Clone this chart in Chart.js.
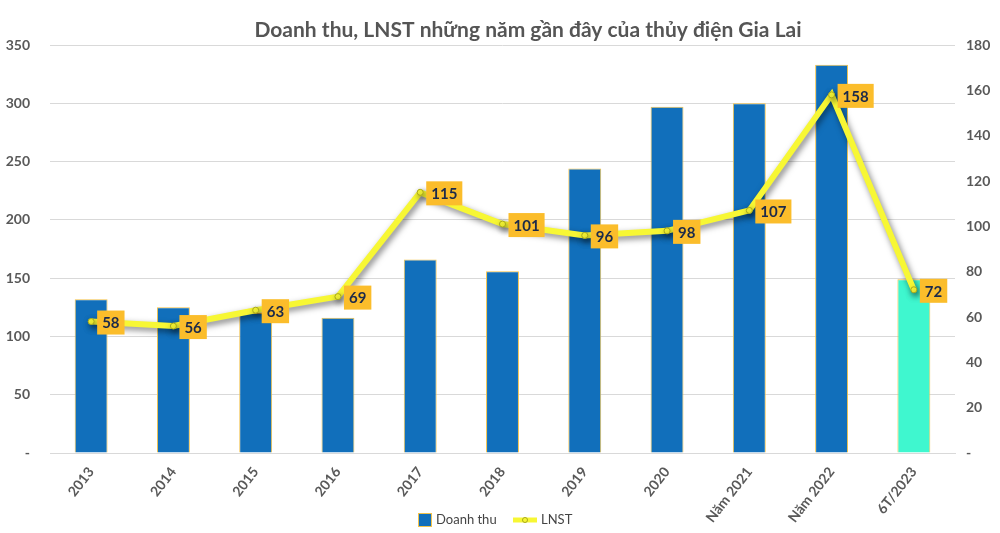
<!DOCTYPE html>
<html>
<head>
<meta charset="utf-8">
<script src="https://cdn.jsdelivr.net/npm/chart.js@4/dist/chart.umd.min.js"></script>
<style>
  html, body { margin: 0; padding: 0; background: #fff; }
  #wrap { width: 1000px; height: 533px; position: relative; }
</style>
</head>
<body>
<div id="wrap"><canvas id="chart"></canvas></div>
<script>
var categories = ['2013', '2014', '2015', '2016', '2017', '2018', '2019', '2020', 'Năm 2021', 'Năm 2022', '6T/2023'];
var doanhThu = [132, 125, 120, 116, 166, 156, 244, 297, 300, 333, 149];
var lnst = [58, 56, 63, 69, 115, 101, 96, 98, 107, 158, 72];
var barColors = ['#116fbb', '#116fbb', '#116fbb', '#116fbb', '#116fbb', '#116fbb', '#116fbb', '#116fbb', '#116fbb', '#116fbb', '#3ff7cf'];
var titleText = 'Doanh thu, LNST những năm gần đây của thủy điện Gia Lai';

var fontFamily = 'Lato, "Open Sans", sans-serif';

// title sits a bit right of centre in the original
var titlePlugin = {
    id: 'titlePlugin',
    afterDraw: function (chart) {
        var ctx = chart.ctx;
        ctx.save();
        ctx.font = 'bold 21px ' + fontFamily;
        ctx.fillStyle = '#555555';
        ctx.textAlign = 'center';
        ctx.textBaseline = 'middle';
        ctx.fillText(titleText, 528, 30);
        ctx.restore();
    }
};

// legend drawn by hand so it can share space with the rotated labels
var legendPlugin = {
    id: 'legendPlugin',
    afterDraw: function (chart) {
        var ctx = chart.ctx;
        var y = 520;
        ctx.save();
        ctx.font = '13px ' + fontFamily;
        ctx.textBaseline = 'middle';
        ctx.textAlign = 'left';
        ctx.fillStyle = '#116fbb';
        ctx.fillRect(418, y - 7, 14, 14);
        ctx.strokeStyle = '#f2c24a';
        ctx.lineWidth = 1;
        ctx.strokeRect(418.5, y - 6.5, 13, 13);
        ctx.fillStyle = '#444';
        ctx.fillText('Doanh thu', 436, y);
        ctx.strokeStyle = '#f7f734';
        ctx.lineWidth = 5;
        ctx.beginPath();
        ctx.moveTo(513, y);
        ctx.lineTo(537, y);
        ctx.stroke();
        ctx.fillStyle = '#f7f734';
        ctx.strokeStyle = '#a8a81c';
        ctx.lineWidth = 1;
        ctx.beginPath();
        ctx.arc(525, y, 2.5, 0, Math.PI * 2);
        ctx.fill();
        ctx.stroke();
        ctx.fillStyle = '#444';
        ctx.fillText('LNST', 541, y);
        ctx.restore();
    }
};

// shadow under the yellow line
var lineShadow = {
    id: 'lineShadow',
    beforeDatasetDraw: function (chart, args) {
        if (args.index === 0) {
            var ctx = chart.ctx;
            ctx.save();
            ctx.shadowColor = 'rgba(0,0,0,0.5)';
            ctx.shadowBlur = 6;
            ctx.shadowOffsetX = 2;
            ctx.shadowOffsetY = 3;
        }
    },
    afterDatasetDraw: function (chart, args) {
        if (args.index === 0) {
            chart.ctx.restore();
        }
    }
};

// orange boxes with the LNST values
var valueLabels = {
    id: 'valueLabels',
    afterDatasetsDraw: function (chart) {
        var ctx = chart.ctx;
        var meta = chart.getDatasetMeta(0);
        ctx.save();
        ctx.font = 'bold 15px ' + fontFamily;
        ctx.textBaseline = 'middle';
        ctx.textAlign = 'center';
        meta.data.forEach(function (pt, i) {
            var txt = String(lnst[i]);
            var w = ctx.measureText(txt).width + 10;
            var h = 24;
            var x = pt.x + 6;
            var y = pt.y - h / 2 + 1;
            ctx.fillStyle = '#fbbd2b';
            ctx.fillRect(x, y, w, h);
            ctx.fillStyle = '#1c2a4a';
            ctx.fillText(txt, x + w / 2, y + h / 2 + 1);
        });
        ctx.restore();
    }
};

var ctx = document.getElementById('chart').getContext('2d');
var chart = new Chart(ctx, {
    type: 'bar',
    data: {
        labels: categories,
        datasets: [
            {
                type: 'line',
                label: 'LNST',
                data: lnst,
                yAxisID: 'y1',
                borderColor: '#f7f734',
                backgroundColor: '#f7f734',
                borderWidth: 6,
                pointRadius: 3,
                pointBorderWidth: 1,
                pointBorderColor: '#a8a81c',
                pointBackgroundColor: '#f7f734',
                tension: 0,
                order: 0
            },
            {
                type: 'bar',
                label: 'Doanh thu',
                data: doanhThu,
                yAxisID: 'y',
                backgroundColor: barColors,
                borderColor: '#f2c24a',
                borderWidth: 1,
                categoryPercentage: 1,
                barPercentage: 0.4,
                order: 1
            }
        ]
    },
    options: {
        responsive: true,
        maintainAspectRatio: false,
        animation: false,
        layout: { padding: { left: 4, right: 10, top: 45, bottom: 0 } },
        plugins: {
            title: { display: false },
            legend: { display: false },
            tooltip: { enabled: false }
        },
        scales: {
            x: {
                grid: { display: false },
                border: { color: '#d9d9d9' },
                afterFit: function (scale) { scale.height = 80; },
                ticks: {
                    color: '#595959',
                    font: { family: fontFamily, size: 14, weight: 'bold' },
                    maxRotation: 52,
                    minRotation: 52,
                    padding: 3
                }
            },
            y: {
                position: 'left',
                min: 0,
                max: 350,
                grid: { color: '#d9d9d9', drawTicks: false },
                border: { display: false },
                afterFit: function (scale) { scale.width = 46; },
                ticks: {
                    stepSize: 50,
                    padding: 20,
                    color: '#595959',
                    font: { family: fontFamily, size: 14, weight: 'bold' },
                    callback: function (v) { return v === 0 ? '-' : v; }
                }
            },
            y1: {
                position: 'right',
                min: 0,
                max: 180,
                grid: { display: false, drawTicks: false },
                border: { display: false },
                afterFit: function (scale) { scale.width = 35; },
                ticks: {
                    stepSize: 20,
                    padding: 11,
                    color: '#595959',
                    font: { family: fontFamily, size: 14, weight: 'bold' },
                    callback: function (v) { return v === 0 ? '-' : v; }
                }
            }
        }
    },
    plugins: [lineShadow, valueLabels, titlePlugin, legendPlugin]
});
</script>
</body>
</html>
